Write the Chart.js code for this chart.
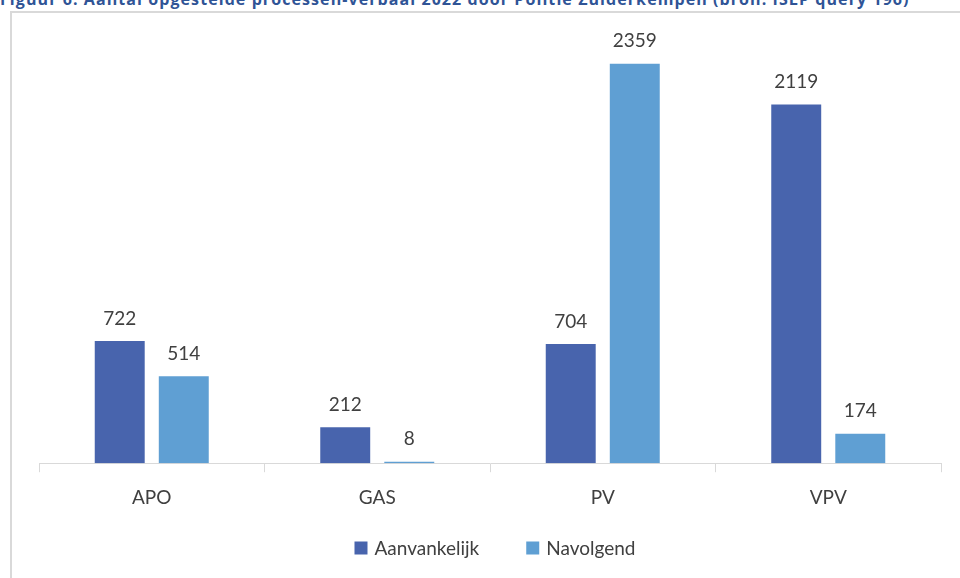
<!DOCTYPE html>
<html>
<head>
<meta charset="utf-8">
<script src="https://cdn.jsdelivr.net/npm/chart.js@4.4.0/dist/chart.umd.min.js"></script>
<style>
    body { margin: 0; background: #fff; overflow: hidden; }
    .title {
        position: absolute; left: 0; top: -9px; white-space: nowrap;
        font: bold 16px "Open Sans", sans-serif; color: #2f5496; line-height: 16px;
    }
    .frame {
        position: absolute; left: 10px; top: 11px; width: 970px; height: 600px;
        border: 2px solid #d9d9d9; box-sizing: border-box;
    }
    .wrap { position: absolute; left: 0; top: 0; width: 960px; height: 578px; }
</style>
</head>
<body>
<div class="title" id="title">Figuur 6: Aantal opgestelde processen-verbaal 2022 door Politie Zuiderkempen (bron: ISLP query 196)</div>
<div class="frame"></div>
<div class="wrap"><canvas id="myChart" width="960" height="578"></canvas></div>
<script>
let categories = ['APO', 'GAS', 'PV', 'VPV']
let aanvankelijk = [722, 212, 704, 2119]
let navolgend = [514, 8, 2359, 174]

// stretch the title so it spans like the original (Calibri is not installed)
let title = document.getElementById('title')
let n = title.textContent.length
title.style.letterSpacing = ((910 - title.offsetWidth) / n) + 'px'

// draw the value above every bar
let barLabels = {
    id: 'barLabels',
    afterDatasetsDraw(chart) {
        let ctx = chart.ctx
        ctx.save()
        ctx.font = '19px Lato, sans-serif'
        ctx.fillStyle = '#404040'
        ctx.textAlign = 'center'
        ctx.textBaseline = 'bottom'
        chart.data.datasets.forEach((ds, i) => {
            chart.getDatasetMeta(i).data.forEach((bar, j) => {
                ctx.fillText(ds.data[j], bar.x, bar.y - 13)
            })
        })
        ctx.restore()
    }
}

// legend like Excel: small square, short gap, wide gap between items
let excelLegend = {
    id: 'excelLegend',
    afterDraw(chart) {
        let ctx = chart.ctx
        let box = 13, gap = 7, itemGap = 47
        ctx.save()
        ctx.font = '19px Lato, sans-serif'
        ctx.textBaseline = 'middle'
        let ds = chart.data.datasets
        let widths = ds.map(d => ctx.measureText(d.label).width)
        let total = widths.reduce((a, w) => a + box + gap + w, 0) + itemGap * (ds.length - 1)
        let x = (chart.chartArea.left + chart.chartArea.right) / 2 + 5 - total / 2
        let y = 548
        ds.forEach((d, i) => {
            ctx.fillStyle = d.backgroundColor
            ctx.fillRect(x, y - box / 2, box, box)
            ctx.fillStyle = '#404040'
            ctx.fillText(d.label, x + box + gap, y + 1)
            x += box + gap + widths[i] + itemGap
        })
        ctx.restore()
    }
}

var ctx = document.getElementById('myChart').getContext('2d');
let myChart = new Chart(ctx, {
    type: 'bar',
    data: {
        labels: categories,
        datasets: [{
            label: 'Aanvankelijk',
            data: aanvankelijk,
            backgroundColor: '#4864ad',
            categoryPercentage: 0.568,
            barPercentage: 0.78
        }, {
            label: 'Navolgend',
            data: navolgend,
            backgroundColor: '#5f9fd3',
            categoryPercentage: 0.568,
            barPercentage: 0.78
        }]
    },
    options: {
        responsive: false,
        animation: false,
        layout: { padding: { left: 39, right: 19, top: 40, bottom: 55 } },
        plugins: {
            legend: { display: false },
            tooltip: { enabled: false }
        },
        scales: {
            y: { display: false, min: 0, max: 2500 },
            x: {
                grid: { drawOnChartArea: false, color: '#d9d9d9', tickLength: 9, offset: true },
                border: { color: '#d9d9d9', width: 1 },
                ticks: {
                    font: { family: 'Lato, sans-serif', size: 19 },
                    color: '#404040', padding: 14
                }
            }
        }
    },
    plugins: [barLabels, excelLegend]
});
</script>
</body>
</html>
